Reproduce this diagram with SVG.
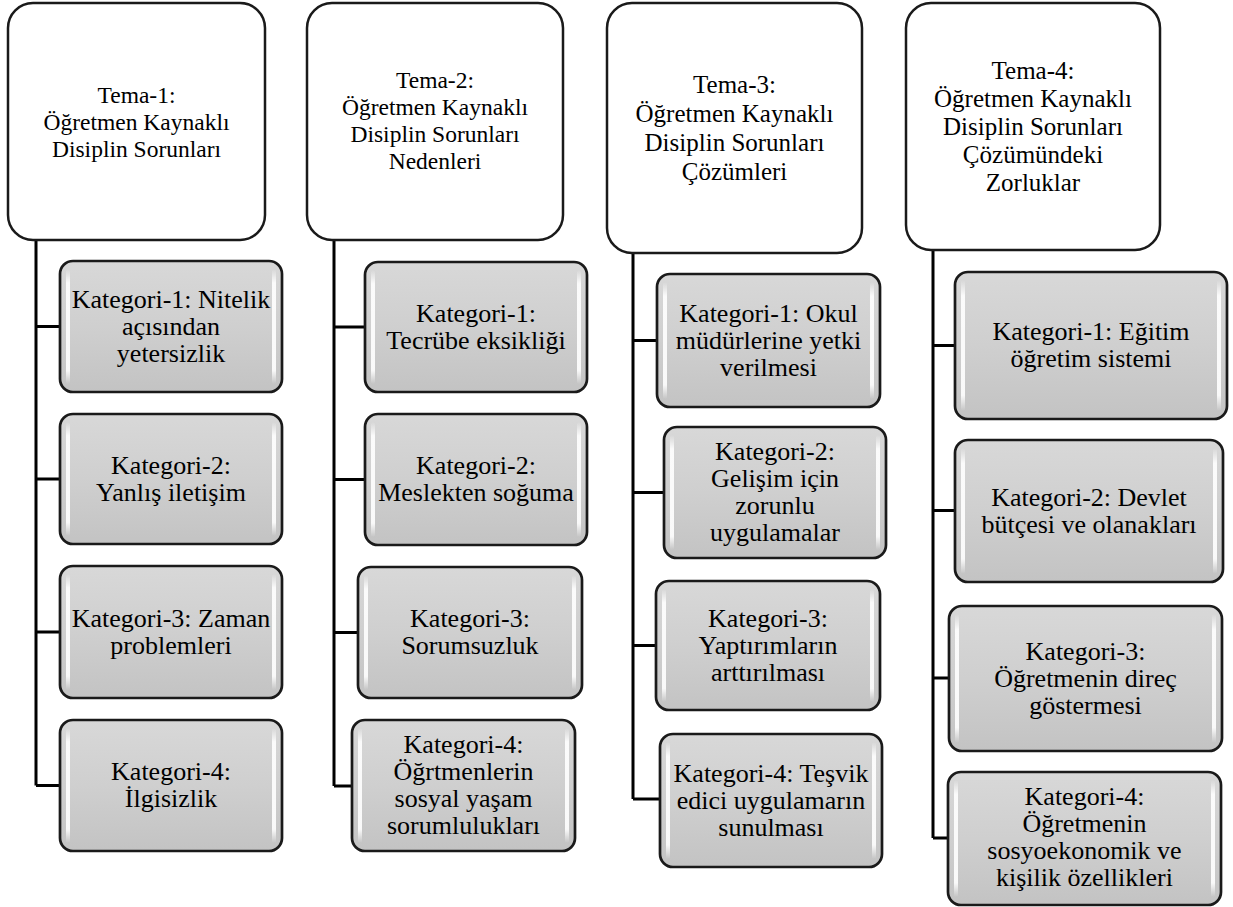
<svg xmlns="http://www.w3.org/2000/svg" width="1233" height="907" viewBox="0 0 1233 907">
<style>
.hdr{fill:#ffffff;stroke:#1a1a1a;stroke-width:2.5}
.cat{fill:url(#catFill);stroke:#1a1a1a;stroke-width:2.7}
.hl{fill:url(#hlGrad)}
.t{font-family:'Liberation Serif','Times New Roman',serif;fill:#000;text-anchor:middle}
.th{font-size:23.5px}
.th2{font-size:25px}
.tc{font-size:26px}
.conn{fill:none;stroke:#000;stroke-width:3}
</style>
<defs>
<linearGradient id="catFill" x1="0" y1="0" x2="0" y2="1">
<stop offset="0" stop-color="#d8d8d8"/>
<stop offset="0.5" stop-color="#cfcfcf"/>
<stop offset="1" stop-color="#c3c3c3"/>
</linearGradient>
<linearGradient id="hlGrad" x1="0" y1="0" x2="0" y2="1">
<stop offset="0" stop-color="#ffffff" stop-opacity="0"/>
<stop offset="0.12" stop-color="#ffffff" stop-opacity="0.9"/>
<stop offset="0.88" stop-color="#ffffff" stop-opacity="0.9"/>
<stop offset="1" stop-color="#ffffff" stop-opacity="0"/>
</linearGradient>
</defs>

<g id="connectors">
<path class="conn" d="M36 240 V785.5 M36 326.5 H60 M36 479 H60 M36 632 H60 M36 785.5 H60"/>
<path class="conn" d="M334 240 V786 M334 327 H365 M334 479.5 H365 M334 632.5 H358 M334 786 H352"/>
<path class="conn" d="M633 253 V799 M633 340.5 H657 M633 492.5 H664 M633 645.5 H656 M633 799 H660"/>
<path class="conn" d="M933 250 V838 M933 345.5 H955 M933 510.5 H955 M933 678 H949 M933 838 H948"/>
</g>

<!-- Column 1 -->
<g id="tema1">
<rect class="hdr" x="8" y="3" width="257" height="237" rx="25"/>
<text class="t th"><tspan x="136.5" y="102.5">Tema-1:</tspan><tspan x="136.5" y="129.5">Öğretmen Kaynaklı</tspan><tspan x="136.5" y="156.5">Disiplin Sorunları</tspan></text>
</g>
<g id="t1k1">
<rect class="cat" x="60" y="261" width="222" height="131" rx="13"/>
<rect class="hl" x="66" y="269" width="4" height="115" rx="2"/><rect class="hl" x="272" y="269" width="4" height="115" rx="2"/>
<text class="t tc"><tspan x="171" y="307.5">Kategori-1: Nitelik</tspan><tspan x="171" y="334.5">açısından</tspan><tspan x="171" y="361.5">yetersizlik</tspan></text>
</g>
<g id="t1k2">
<rect class="cat" x="60" y="414" width="222" height="130" rx="13"/>
<rect class="hl" x="66" y="422" width="4" height="114" rx="2"/><rect class="hl" x="272" y="422" width="4" height="114" rx="2"/>
<text class="t tc"><tspan x="171" y="473.5">Kategori-2:</tspan><tspan x="171" y="500.5">Yanlış iletişim</tspan></text>
</g>
<g id="t1k3">
<rect class="cat" x="60" y="566" width="222" height="132" rx="13"/>
<rect class="hl" x="66" y="574" width="4" height="116" rx="2"/><rect class="hl" x="272" y="574" width="4" height="116" rx="2"/>
<text class="t tc"><tspan x="171" y="626.5">Kategori-3: Zaman</tspan><tspan x="171" y="653.5">problemleri</tspan></text>
</g>
<g id="t1k4">
<rect class="cat" x="60" y="720" width="222" height="131" rx="13"/>
<rect class="hl" x="66" y="728" width="4" height="115" rx="2"/><rect class="hl" x="272" y="728" width="4" height="115" rx="2"/>
<text class="t tc"><tspan x="171" y="780">Kategori-4:</tspan><tspan x="171" y="807">İlgisizlik</tspan></text>
</g>

<!-- Column 2 -->
<g id="tema2">
<rect class="hdr" x="307" y="3" width="256" height="237" rx="25"/>
<text class="t th"><tspan x="435" y="88">Tema-2:</tspan><tspan x="435" y="115">Öğretmen Kaynaklı</tspan><tspan x="435" y="142">Disiplin Sorunları</tspan><tspan x="435" y="169">Nedenleri</tspan></text>
</g>
<g id="t2k1">
<rect class="cat" x="365" y="262" width="222" height="130" rx="13"/>
<rect class="hl" x="371" y="270" width="4" height="114" rx="2"/><rect class="hl" x="577" y="270" width="4" height="114" rx="2"/>
<text class="t tc"><tspan x="476" y="321.5">Kategori-1:</tspan><tspan x="476" y="348.5">Tecrübe eksikliği</tspan></text>
</g>
<g id="t2k2">
<rect class="cat" x="365" y="414" width="222" height="131" rx="13"/>
<rect class="hl" x="371" y="422" width="4" height="115" rx="2"/><rect class="hl" x="577" y="422" width="4" height="115" rx="2"/>
<text class="t tc"><tspan x="476" y="474">Kategori-2:</tspan><tspan x="476" y="501">Meslekten soğuma</tspan></text>
</g>
<g id="t2k3">
<rect class="cat" x="358" y="567" width="224" height="131" rx="13"/>
<rect class="hl" x="364" y="575" width="4" height="115" rx="2"/><rect class="hl" x="572" y="575" width="4" height="115" rx="2"/>
<text class="t tc"><tspan x="470" y="627">Kategori-3:</tspan><tspan x="470" y="654">Sorumsuzluk</tspan></text>
</g>
<g id="t2k4">
<rect class="cat" x="352" y="720" width="223" height="131" rx="13"/>
<rect class="hl" x="358" y="728" width="4" height="115" rx="2"/><rect class="hl" x="565" y="728" width="4" height="115" rx="2"/>
<text class="t tc"><tspan x="463.5" y="753">Kategori-4:</tspan><tspan x="463.5" y="780">Öğrtmenlerin</tspan><tspan x="463.5" y="807">sosyal yaşam</tspan><tspan x="463.5" y="834">sorumlulukları</tspan></text>
</g>

<!-- Column 3 -->
<g id="tema3">
<rect class="hdr" x="607" y="3" width="255" height="250" rx="25"/>
<text class="t th2"><tspan x="734.5" y="92.5">Tema-3:</tspan><tspan x="734.5" y="121.5">Öğretmen Kaynaklı</tspan><tspan x="734.5" y="150.5">Disiplin Sorunları</tspan><tspan x="734.5" y="179.5">Çözümleri</tspan></text>
</g>
<g id="t3k1">
<rect class="cat" x="657" y="274" width="223" height="133" rx="13"/>
<rect class="hl" x="663" y="282" width="4" height="117" rx="2"/><rect class="hl" x="870" y="282" width="4" height="117" rx="2"/>
<text class="t tc"><tspan x="768.5" y="321.5">Kategori-1: Okul</tspan><tspan x="768.5" y="348.5">müdürlerine yetki</tspan><tspan x="768.5" y="375.5">verilmesi</tspan></text>
</g>
<g id="t3k2">
<rect class="cat" x="664" y="427" width="222" height="131" rx="13"/>
<rect class="hl" x="670" y="435" width="4" height="115" rx="2"/><rect class="hl" x="876" y="435" width="4" height="115" rx="2"/>
<text class="t tc"><tspan x="775" y="460">Kategori-2:</tspan><tspan x="775" y="487">Gelişim için</tspan><tspan x="775" y="514">zorunlu</tspan><tspan x="775" y="541">uygulamalar</tspan></text>
</g>
<g id="t3k3">
<rect class="cat" x="656" y="581" width="224" height="129" rx="13"/>
<rect class="hl" x="662" y="589" width="4" height="113" rx="2"/><rect class="hl" x="870" y="589" width="4" height="113" rx="2"/>
<text class="t tc"><tspan x="768" y="626.5">Kategori-3:</tspan><tspan x="768" y="653.5">Yaptırımların</tspan><tspan x="768" y="680.5">arttırılması</tspan></text>
</g>
<g id="t3k4">
<rect class="cat" x="660" y="734" width="222" height="133" rx="13"/>
<rect class="hl" x="666" y="742" width="4" height="117" rx="2"/><rect class="hl" x="872" y="742" width="4" height="117" rx="2"/>
<text class="t tc"><tspan x="771" y="781.5">Kategori-4: Teşvik</tspan><tspan x="771" y="808.5">edici uygulamarın</tspan><tspan x="771" y="835.5">sunulması</tspan></text>
</g>

<!-- Column 4 -->
<g id="tema4">
<rect class="hdr" x="906" y="3" width="254" height="247" rx="25"/>
<text class="t th2"><tspan x="1033" y="78.5">Tema-4:</tspan><tspan x="1033" y="106.5">Öğretmen Kaynaklı</tspan><tspan x="1033" y="134.5">Disiplin Sorunları</tspan><tspan x="1033" y="162.5">Çözümündeki</tspan><tspan x="1033" y="190.5">Zorluklar</tspan></text>
</g>
<g id="t4k1">
<rect class="cat" x="955" y="272" width="272" height="147" rx="13"/>
<rect class="hl" x="961" y="280" width="4" height="131" rx="2"/><rect class="hl" x="1217" y="280" width="4" height="131" rx="2"/>
<text class="t tc"><tspan x="1091" y="340">Kategori-1: Eğitim</tspan><tspan x="1091" y="367">öğretim sistemi</tspan></text>
</g>
<g id="t4k2">
<rect class="cat" x="955" y="440" width="268" height="142" rx="13"/>
<rect class="hl" x="961" y="448" width="4" height="126" rx="2"/><rect class="hl" x="1213" y="448" width="4" height="126" rx="2"/>
<text class="t tc"><tspan x="1089" y="505.5">Kategori-2: Devlet</tspan><tspan x="1089" y="532.5">bütçesi ve olanakları</tspan></text>
</g>
<g id="t4k3">
<rect class="cat" x="949" y="606" width="273" height="145" rx="13"/>
<rect class="hl" x="955" y="614" width="4" height="129" rx="2"/><rect class="hl" x="1212" y="614" width="4" height="129" rx="2"/>
<text class="t tc"><tspan x="1085.5" y="659.5">Kategori-3:</tspan><tspan x="1085.5" y="686.5">Öğretmenin direç</tspan><tspan x="1085.5" y="713.5">göstermesi</tspan></text>
</g>
<g id="t4k4">
<rect class="cat" x="948" y="772" width="273" height="133" rx="13"/>
<rect class="hl" x="954" y="780" width="4" height="117" rx="2"/><rect class="hl" x="1211" y="780" width="4" height="117" rx="2"/>
<text class="t tc"><tspan x="1084.5" y="805">Kategori-4:</tspan><tspan x="1084.5" y="832">Öğretmenin</tspan><tspan x="1084.5" y="859">sosyoekonomik ve</tspan><tspan x="1084.5" y="886">kişilik özellikleri</tspan></text>
</g>
</svg>
